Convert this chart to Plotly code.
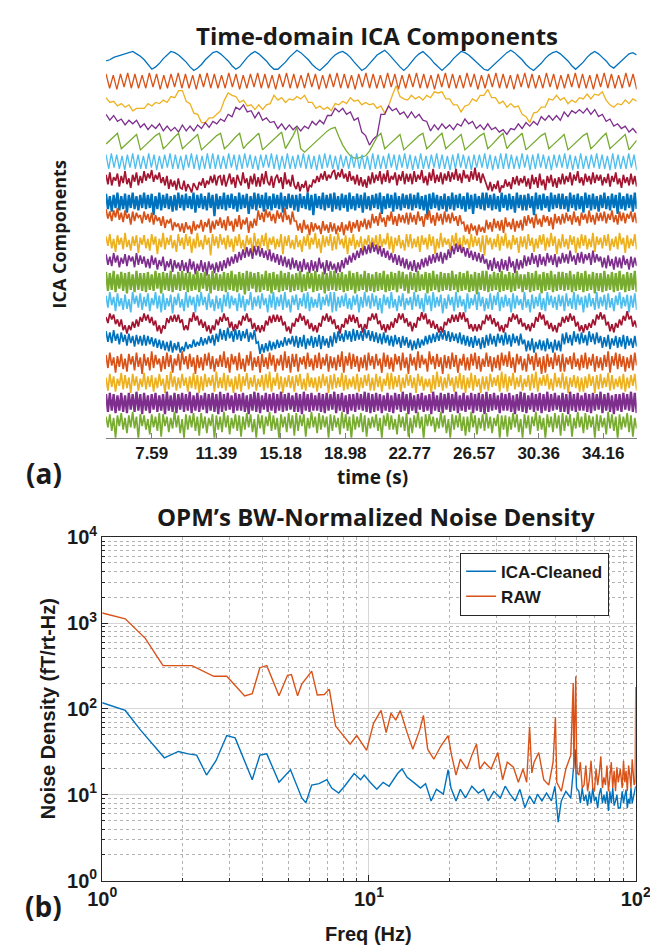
import numpy as np
import plotly.graph_objects as go

# ---------------- Panel (a): time-domain ICA components ----------------
T_START = 4.90
T_END = 36.13
time_ticks = [7.59, 11.39, 15.18, 18.98, 22.77, 26.57, 30.36, 34.16]
trace_spacing = 17.0
component_colors = ["#0072BD", "#D95319", "#EDB120", "#7E2F8E", "#77AC30", "#4DBEEE", "#A2142F"]

comp01 = [0,1,3,4,5,6,7,8,6,4, 1,-3,-7,-5,-2,2,5,8,7,5, 2,-1,-5,-8,-6,-3,1,4,7,8,
          6,3,0,-4,-7,-5,-1,3,6,8, 6,3,0,-4,-7,-7,-4,-1,3,6, 9,7,4,1,-3,-6,-8,-5,-2,2,
          5,7,8,6,3,-1,-5,-8,-6,-2, 2,5,7,9,6,2,-2,-5,-8,-5, -1,3,6,8,5,2,-2,-5,-8,-5,
          -2,2,5,8,7,5,2,-1,-4,-7, -8,-5,-2,1,4,7,9,7,4,1, -3,-6,-8,-5,-2,2,5,7,8,6,
          3,0,-4,-7,-4,-1,3,6,8,6, 3,0,-4,-6,-3,0,3,6,7,5]
comp02 = [6,-6,5,-7,6,-5,7,-6,6,-6, 5,-6,7,-5,6,-7,5,-6,6,-5, 7,-6,6,-6,5,-7,6,-5,7,-6,
          6,-6,5,-6,7,-5,6,-7,5,-6, 6,-5,7,-6,6,-6,5,-7,6,-5, 7,-6,6,-6,5,-6,7,-5,6,-7,
          5,-6,6,-5,7,-6,6,-6,5,-7, 6,-5,7,-6,6,-6,5,-6,7,-5, 6,-7,5,-6,6,-5,7,-6,6,-6,
          5,-7,6,-5,7,-6,6,-6,5,-6, 7,-5,6,-7,5,-6,6,-5,7,-6, 6,-6,5,-7,6,-5,7,-6,6,-6,
          5,-6,7,-5,6,-7,5,-6,6,-5, 7,-6,6,-6,5,-7,6,-5,7,-6, 6,-6,5,-6,7,-5,6,-7]
comp03 = [3,-1,0,-4,-2,-5,-3,-8,-6,-6, -6,-2,-4,-1,-2,1,-1,4,3,9, 9,0,-2,-10,-11,-18,-18,-14,-14,-11,
          -8,1,7,5,4,-1,1,-4,-3,-7, -3,-7,-3,-2,5,1,3,-1,2,1, 4,2,5,-1,-1,-6,-4,-7,-5,-8,
          -2,-3,0,-2,3,0,1,-3,-1,-3, -2,-6,-4,-10,-4,5,13,4,2,1, 5,2,4,1,5,3,8,7,8,2,
          2,-3,-3,-9,-4,-3,2,0,5,5, 10,3,3,-2,0,-5,-2,-5,-4,-11, -13,-18,-10,-9,-5,-5,2,1,5,1,
          3,-2,1,-1,3,2,6,2,6,5, 8,1,-3,-5,-2,-3,1,-2,2,0]
comp04 = [6,1,5,0,2,-3,1,-2,1,-5, -2,-7,-3,-6,-2,-8,-4,-8,-5,-9, -3,-8,-4,-8,-3,-6,-1,-5,0,-2,
          2,0,6,4,12,10,14,8,9,3, 8,1,3,-1,0,-6,-2,-7,-3,-7, -4,-8,-4,-6,0,-3,1,-2,5,5,
          11,8,11,6,8,1,3,-9,-12,-20, -15,-12,6,6,13,9,11,6,8,3, 8,3,6,1,0,-8,-3,-7,-2,-6,
          -3,-7,-2,-4,2,-2,0,-6,-3,-7, -2,-7,-5,-9,-7,-11,-6,-7,-2,-6, -1,-4,0,-3,4,1,5,1,5,1,
          8,4,9,7,10,7,11,6,10,4, 6,0,2,-4,-2,-6,-4,-9,-6,-10]
comp05 = [-2,1,4,7,-6,-3,0,3,6,-7, -4,-1,2,5,7,-6,-3,1,4,7, -6,-3,0,3,6,-7,-4,-1,2,5,
          7,-6,-3,1,4,7,-6,-2,1,4, 7,-7,-4,-1,2,5,8,-6,-1,5, 12,-6,-9,-6,-3,0,3,6,9,11,
          12,4,-3,-8,-12,-14,-14,-13,-12,-8, -2,4,7,-6,-3,0,3,6,-7,-4, -1,2,5,7,-6,-3,1,4,7,-6,
          -3,0,3,6,-7,-4,-1,2,5,7, -6,-3,1,4,7,-6,-2,1,4,7, -7,-4,-1,2,5,7,-6,-3,0,3,
          6,-7,-4,-1,2,5,7,-6,-3,1, 4,7,-6,-3,0,3,6,-7,-3,1]
comp06 = [6,-6,7,-5,6,-6,5,-7,6,-5, 7,-6,6,-6,5,-6,7,-5,6,-7, 5,-6,6,-5,7,-6,6,-6,5,-7,
          6,-5,7,-6,6,-7,5,-6,7,-6, 7,-6,6,-6,5,-6,7,-5,6,-7, 6,-6,7,-5,6,-6,5,-7,6,-5,
          6,-5,7,-6,6,-7,5,-6,7,-6, 5,-6,6,-5,7,-6,6,-6,5,-7, 6,-6,7,-5,6,-6,5,-7,6,-5,
          5,-6,6,-5,7,-6,6,-6,5,-7, 7,-6,6,-6,5,-6,7,-5,6,-7, 6,-5,7,-6,6,-7,5,-6,7,-6,
          5,-6,6,-5,7,-6,6,-6,5,-7, 6,-6,7,-5,6,-6,5,-7,6,-5, 6,-5,7,-6,6,-7,5,-6,7,-6,
          7,-6,6,-6,5,-6,7,-5,6,-7, 6,-6,7,-5,6,-6,5,-7,6,-5, 6,-5,7,-6,6,-7,5,-6,7,-6,
          5,-6,6,-5,7,-6,6,-6,5,-7, 7,-6,6,-6,5,-6,7,-5,6,-7]
comp07 = [6,-2,8,-3,4,1,7,-4,5,-1,9,-2,3,-5,6,0,8,-3,5,-1,
          9,1,7,3,10,0,6,2,8,-1,4,-3,5,-6,2,-4,1,-7,3,-5,
          -6,1,-8,-2,-5,-9,-1,-4,-7,0,-3,3,-5,1,-2,5,-1,6,-3,4,
          5,-3,6,-4,2,7,-2,4,-5,6,1,-3,8,-1,3,-6,5,-2,7,-4,
          4,-4,7,-2,9,0,-3,5,-5,3,6,-1,4,-6,8,-2,2,-4,6,-3,
          -6,0,-8,-2,-5,1,-9,-3,-4,2,-1,5,0,7,2,9,1,6,3,8,
          10,2,8,4,11,3,7,0,9,1,5,-2,6,-3,4,-4,2,-5,5,-2,
          8,-1,6,1,9,-2,7,0,10,-1,5,2,8,-3,6,1,9,-2,7,0,
          7,-2,9,0,6,2,10,-1,5,-3,8,1,11,-1,6,0,8,-2,7,1,
          9,0,8,2,11,1,7,-1,10,3,6,0,9,2,12,1,8,-1,7,2,
          -1,-7,0,-8,-2,-6,1,-9,-3,-5,2,-4,0,-6,4,-2,5,-3,3,-1,
          5,-4,3,-6,6,-2,4,-5,7,-3,2,-7,5,-1,6,-4,3,-5,4,-2,
          7,-2,5,0,8,-3,6,1,9,-1,4,-3,7,0,5,-2,8,-1,6,1,
          6,-3,4,-1,7,-4,5,0,8,-2,3,-5,6,-1,4,-3,7,-2,5,-4]
comp08 = [7,-6,5,-8,6,-5,8,-7,5,-6,7,-9,6,-5,8,-6,5,-7,6,-5,
          8,-6,6,-5,7,-11,5,-6,8,-7,6,-5,7,-6,5,-8,6,-7,8,-5,
          6,-7,7,-5,5,-6,8,-9,6,-5,7,-6,5,-7,8,-5,6,-12,7,-6,
          5,-6,8,-7,6,-5,7,-6,5,-8,8,-6,6,-5,7,-10,5,-6,8,-7,
          7,-5,6,-8,8,-6,5,-7,7,-5,6,-6,8,-9,5,-6,7,-5,6,-7,
          6,-8,7,-5,5,-6,8,-7,6,-11,7,-5,5,-6,8,-7,6,-5,7,-8,
          8,-6,5,-7,7,-5,6,-8,8,-6,5,-7,7,-5,6,-9,8,-6,5,-7,
          6,-5,7,-6,8,-10,5,-6,7,-5,6,-8,8,-6,5,-7,7,-5,6,-6,
          7,-7,6,-5,8,-6,5,-7,6,-12,7,-6,8,-5,6,-7,5,-6,7,-8,
          5,-6,8,-7,6,-5,7,-6,5,-8,8,-6,6,-10,7,-5,5,-6,8,-7,
          8,-5,6,-7,7,-6,5,-8,8,-5,6,-7,7,-6,5,-9,8,-5,6,-7,
          6,-7,7,-5,5,-11,8,-6,6,-7,7,-5,5,-8,8,-6,6,-5,7,-6,
          7,-6,5,-8,8,-5,6,-7,7,-6,5,-9,8,-5,6,-7,7,-6,5,-8,
          6,-5,8,-6,5,-7,7,-5,6,-10,8,-6,5,-7,7,-5,6,-8,8,-6]
comp09 = [11,3,9,1,10,4,12,2,8,0,10,3,7,-2,9,1,8,4,6,-1,
          9,2,7,0,8,-2,6,1,4,-3,5,-5,2,-1,3,-7,0,-4,-1,-8,
          -1,-9,0,-6,-3,-10,1,-7,-2,-5,2,-8,0,-4,3,-9,1,-6,2,-3,
          4,-5,2,-7,5,-3,1,-8,3,-4,6,-6,2,-2,4,-9,1,-5,3,-3,
          10,2,8,0,11,4,9,1,7,-1,10,3,8,0,12,2,6,-2,9,1,
          1,-7,-1,-9,2,-6,-2,-11,0,-8,-1,-6,-3,-10,1,-7,-2,-9,0,-8,
          -1,-10,-3,-8,0,-11,-2,-7,1,-9,0,-5,2,-8,1,-4,3,-6,2,-5,
          7,-1,5,-3,8,0,4,-4,6,1,9,-2,5,-3,7,0,6,-1,8,-2,
          8,0,6,-2,9,1,5,-4,7,2,10,-1,6,-3,8,1,7,-2,9,0,
          7,-1,8,1,5,-3,6,-1,0,-8,-2,-10,-1,-7,-3,-11,-2,-8,-4,-9,
          2,-6,0,-8,3,-5,1,-7,2,-9,4,-4,0,-6,3,-8,1,-5,2,-7,
          5,-3,6,-1,4,-5,7,-2,3,-4,6,0,5,-3,4,-6,7,-1,5,-2,
          7,-1,8,1,6,-2,9,0,5,-3,8,2,7,-1,10,0,6,-2,8,1,
          8,1,9,-1,7,2,10,0,6,-2,9,1,8,-1,7,3,9,0,8,-1]
comp10 = [5,-3,7,-5,3,-8,6,-2,4,-6,8,-4,2,-7,5,-3,6,-9,4,-2,
          6,-5,3,-7,7,-2,5,-10,3,-4,8,-6,4,-2,6,-5,2,-8,7,-3,
          4,-6,7,-3,5,-9,3,-5,8,-4,2,-6,6,-2,4,-11,7,-3,5,-5,
          7,-2,4,-6,6,-4,3,-8,5,-3,7,-5,2,-7,6,-2,4,-9,8,-4,
          3,-5,6,-3,8,-7,4,-2,5,-6,3,-4,7,-10,5,-3,6,-5,2,-6,
          6,-4,2,-8,5,-3,7,-6,4,-2,8,-5,3,-9,6,-4,5,-3,7,-7,
          5,-6,8,-2,3,-5,6,-10,4,-3,7,-6,2,-4,5,-8,3,-2,6,-5,
          4,-3,6,-7,7,-4,3,-2,8,-6,5,-9,4,-3,6,-5,2,-7,7,-4,
          7,-5,3,-4,5,-8,6,-2,4,-6,7,-3,5,-10,3,-5,8,-4,4,-2,
          3,-7,6,-3,8,-5,4,-9,6,-2,3,-6,7,-4,5,-3,4,-8,6,-11,
          6,-2,4,-6,3,-4,7,-7,5,-3,8,-5,2,-6,6,-2,4,-9,5,-4,
          5,-6,7,-3,4,-8,3,-5,6,-2,7,-7,4,-4,8,-3,5,-10,3,-5,
          7,-4,3,-6,6,-2,5,-9,4,-5,7,-3,6,-6,3,-4,8,-8,5,-2,
          4,-5,6,-3,7,-7,3,-4,5,-6,8,-2,4,-9,6,-5,3,-3,7,-6]
comp11 = [7,-2,5,-3,8,0,6,-4,4,-1,7,-3,6,1,5,-4,8,-2,6,-1,
          5,-4,3,-5,6,-2,4,-6,2,-3,5,-7,1,-4,3,-8,2,-5,0,-7,
          2,-7,0,-9,3,-6,1,-10,-1,-7,2,-8,0,-11,1,-6,-1,-9,0,-8,
          1,-7,2,-5,4,-3,5,-1,7,0,9,2,11,4,13,5,12,3,14,6,
          14,5,12,4,10,2,11,1,8,0,7,-2,6,-3,5,-4,3,-6,4,-5,
          2,-7,1,-8,3,-6,0,-9,2,-7,1,-8,4,-5,0,-10,2,-7,1,-6,
          -1,-9,0,-8,2,-5,4,-2,6,0,8,2,10,4,12,6,14,7,15,8,
          17,9,15,7,14,5,12,4,10,2,8,0,7,-2,6,-3,4,-5,3,-6,
          1,-7,2,-8,0,-6,3,-4,4,-3,6,-1,7,0,8,1,9,-1,8,2,
          11,4,14,7,16,9,15,8,13,5,12,4,10,2,9,1,8,0,7,-1,
          3,-6,2,-7,4,-5,1,-8,3,-6,2,-7,5,-4,1,-9,3,-6,2,-5,
          6,-3,5,-2,8,-1,6,-4,7,-2,5,-3,8,0,6,-2,7,-4,5,-1,
          8,0,7,-1,10,1,6,-2,8,0,9,-1,7,2,8,-2,10,0,7,1,
          5,-4,4,-5,6,-3,3,-6,5,-4,4,-5,6,-2,3,-6,5,-4,4,-3]
comp12 = [9,-7,8,-6,10,-8,7,-5,9,-7,8,-9,9,-6,7,-8,10,-6,8,-7,
          8,-8,9,-6,7,-7,10,-5,8,-9,9,-6,8,-7,10,-8,7,-6,9,-7,
          10,-6,8,-8,9,-7,7,-6,10,-8,8,-5,9,-7,7,-9,10,-6,8,-7,
          7,-7,9,-8,8,-6,10,-7,7,-8,9,-6,8,-10,10,-7,9,-5,8,-8,
          9,-8,7,-6,10,-7,8,-9,9,-6,7,-8,10,-7,8,-6,9,-8,7,-7,
          8,-6,10,-8,7,-7,9,-5,8,-8,10,-7,7,-6,9,-9,8,-7,10,-6,
          10,-7,8,-6,9,-8,7,-7,10,-6,8,-9,9,-7,7,-6,10,-8,8,-7,
          7,-8,9,-7,8,-6,10,-8,7,-7,9,-6,8,-8,10,-5,9,-7,7,-9,
          9,-6,8,-8,10,-7,7,-6,9,-9,8,-7,10,-6,7,-8,9,-7,8,-6,
          8,-7,10,-6,7,-8,9,-7,8,-6,10,-8,7,-7,9,-10,8,-6,10,-7,
          10,-8,7,-7,9,-6,8,-8,10,-7,7,-6,9,-8,8,-7,10,-5,7,-8,
          7,-6,9,-8,8,-7,10,-6,7,-9,9,-7,8,-6,10,-8,7,-7,9,-6,
          9,-7,8,-6,10,-8,7,-7,9,-6,8,-8,10,-7,7,-6,9,-9,8,-7,
          8,-8,10,-7,7,-6,9,-8,8,-7,10,-6,7,-8,9,-7,8,-6,10,-8]
comp13 = [6,-4,9,-2,5,-7,8,-3,4,-6,7,-5,3,-8,9,-1,6,-4,8,-6,
          5,-3,8,-7,4,-2,9,-5,6,-8,8,-6,4,-3,7,-9,5,-2,8,-4,
          3,-7,9,-4,6,-2,5,-8,7,-3,9,-2,5,-6,8,-4,3,-7,6,-5,
          4,-8,7,-3,9,-5,6,-2,4,-7,8,-4,6,-7,3,-2,9,-6,5,-3,
          6,-5,8,-2,4,-8,7,-4,9,-6,5,-3,7,-6,9,-4,3,-8,6,-2,
          7,-6,4,-3,8,-5,9,-7,5,-4,3,-4,8,-6,5,-2,7,-3,9,-8,
          9,-7,5,-4,6,-3,8,-5,4,-6,6,-2,7,-8,5,-4,9,-3,6,-5,
          8,-3,6,-6,4,-9,7,-2,5,-5,9,-4,3,-7,6,-3,8,-6,4,-2,
          5,-6,9,-3,7,-5,4,-8,8,-2,6,-7,9,-4,5,-3,7,-9,4,-5,
          7,-2,5,-7,9,-4,6,-3,3,-8,8,-5,4,-2,7,-6,9,-3,5,-7,
          4,-5,8,-6,6,-2,9,-7,5,-4,7,-3,4,-8,8,-5,6,-2,3,-6,
          9,-4,3,-8,7,-5,5,-3,8,-6,4,-7,9,-2,6,-4,5,-6,7,-3,
          6,-7,8,-3,4,-5,9,-6,7,-2,5,-8,6,-4,8,-3,4,-6,9,-5,
          5,-3,7,-6,8,-4,4,-7,6,-2,9,-5,5,-3,7,-8,6,-4,8,-6]
comp14 = [5,0,8,3,7,-1,3,-3,3,-6,-2,-9,-2,-6,1,-4,3,-3,5,1,
          8,2,7,0,5,-2,2,-7,-2,-9,-2,-5,4,0,6,1,7,1,7,0,
          3,-6,-2,-6,4,1,9,2,6,-2,3,-4,1,-7,-2,-9,-2,-6,3,-2,
          5,1,8,2,5,-4,1,-7,-1,-5,2,-2,6,2,8,1,4,-5,0,-7,
          -2,-8,-2,-7,2,-2,6,0,7,1,7,1,6,-2,1,-7,-3,-9,0,-3,
          4,1,8,2,6,-2,3,-5,0,-7,-2,-8,0,-3,6,2,8,1,6,-1,
          3,-5,-2,-9,-1,-4,4,-1,7,1,7,0,5,-4,-1,-8,-1,-5,5,2,
          8,3,8,-1,2,-6,-1,-8,-1,-6,1,-4,4,0,8,3,8,0,4,-3,
          1,-7,0,-4,5,2,9,3,8,-1,3,-4,2,-5,-1,-8,-3,-8,1,-2,
          4,0,7,1,7,1,9,3,9,1,4,-5,-1,-7,-1,-7,-1,-6,2,-1,
          7,2,7,-1,4,-3,1,-7,-2,-8,-1,-4,5,1,8,3,7,-1,4,-3,
          0,-6,-1,-7,0,-4,5,1,9,3,7,-2,2,-5,0,-7,-2,-8,0,-3,
          5,0,6,1,8,2,6,-3,1,-7,-2,-8,-1,-6,0,-4,3,-2,7,3,
          9,3,7,-2,1,-7,-1,-8,0,-4,3,-2,6,2,10,3,6,-3,2,-4]
comp15 = [10,1,9,0,11,2,8,-1,9,1,7,-2,8,0,6,-3,7,-1,6,-2,
          7,-2,6,-1,5,-3,4,-4,3,-5,2,-6,1,-7,2,-8,0,-6,1,-8,
          -3,-7,1,-5,-1,-4,3,-3,1,-2,5,-2,4,-1,6,0,7,-2,8,1,
          12,3,11,2,13,4,10,1,12,3,11,2,10,4,12,1,9,3,11,0,
          1,-9,-1,-8,0,-7,2,-6,1,-5,3,-4,2,-3,5,-2,4,-1,6,-3,
          6,-4,5,-3,7,-5,4,-2,6,-4,5,-3,7,-5,6,-2,4,-4,6,-3,
          9,0,10,2,8,1,11,3,10,1,12,2,11,3,10,2,12,4,11,2,
          10,1,9,0,8,-1,9,0,7,-2,6,-3,7,-1,5,-4,6,-2,5,-4,
          3,-6,2,-5,4,-4,3,-2,6,-1,7,0,8,1,9,2,10,3,11,2,
          10,1,9,2,8,0,9,-1,7,-2,6,-3,5,-4,6,-2,4,-5,5,-4,
          7,-2,8,-1,6,-3,8,0,7,-2,9,-1,7,-3,8,0,6,-2,8,-1,
          3,-7,2,-6,4,-8,1,-5,3,-6,2,-7,4,-5,1,-8,3,-6,2,-7,
          8,-1,9,0,7,-2,10,1,8,-1,9,0,7,-2,10,1,8,-1,9,0,
          6,-4,5,-3,7,-5,4,-2,6,-4,5,-3,7,-5,6,-2,4,-4,6,-3]
comp16 = [7,-4,9,-2,5,-8,6,-3,8,-5,4,-7,8,-1,6,-6,9,-3,5,-9,
          8,-2,5,-6,10,-4,7,-1,4,-7,6,-5,9,-3,7,-8,4,-2,8,-6,
          10,-1,6,-5,8,-3,5,-9,7,-4,5,-6,8,-2,9,-5,6,-7,4,-3,
          7,-3,10,-4,5,-8,8,-1,6,-6,9,-5,4,-7,7,-2,10,-6,5,-3,
          6,-8,8,-3,5,-5,9,-2,7,-7,4,-2,7,-6,10,-4,6,-8,8,-3,
          8,-7,5,-1,6,-5,9,-3,4,-6,7,-4,9,-5,5,-2,8,-7,6,-4,
          5,-6,7,-3,10,-8,6,-2,9,-5,8,-3,6,-7,5,-4,7,-6,9,-2,
          6,-5,8,-2,4,-8,9,-3,7,-5,5,-7,8,-1,6,-6,9,-4,5,-9,
          8,-2,5,-6,10,-4,7,-1,4,-7,10,-1,6,-5,8,-3,5,-9,7,-4,
          6,-5,9,-3,7,-8,4,-2,8,-6,5,-6,8,-2,9,-5,6,-7,4,-3,
          9,-3,6,-7,5,-4,7,-6,9,-2,7,-3,10,-4,5,-8,8,-1,6,-6,
          4,-7,8,-1,6,-6,9,-3,5,-9,6,-8,8,-3,5,-5,9,-2,7,-7,
          8,-7,5,-1,6,-5,9,-3,4,-6,7,-4,9,-5,5,-2,8,-7,6,-4,
          5,-6,7,-3,10,-8,6,-2,9,-5,8,-3,6,-7,5,-4,7,-6,9,-2]
comp17 = [5,-6,8,-3,6,-7,4,-2,9,-5,7,-4,5,-8,8,-2,6,-6,4,-3,
          9,-5,6,-3,7,-7,5,-4,8,-2,4,-8,7,-5,10,-3,6,-6,5,-4,
          8,-2,5,-7,6,-4,9,-5,7,-8,6,-6,8,-3,5,-2,7,-7,10,-4,
          5,-4,9,-6,7,-3,4,-8,6,-5,8,-7,6,-2,9,-5,5,-3,7,-6,
          4,-3,7,-6,8,-4,10,-7,5,-2,9,-5,6,-8,5,-3,7,-4,6,-7,
          7,-2,8,-5,4,-6,9,-3,5,-4,5,-7,6,-4,8,-2,6,-8,7,-5,
          8,-4,5,-3,9,-6,7,-5,4,-3,6,-5,8,-7,5,-4,7,-2,8,-6,
          5,-6,8,-3,6,-7,4,-2,9,-5,9,-5,6,-3,7,-7,5,-4,8,-2,
          7,-4,5,-8,8,-2,6,-6,4,-3,4,-8,7,-5,10,-3,6,-6,5,-4,
          8,-2,5,-7,6,-4,9,-5,7,-8,5,-4,9,-6,7,-3,4,-8,6,-5,
          6,-6,8,-3,5,-2,7,-7,10,-4,8,-7,6,-2,9,-5,5,-3,7,-6,
          4,-3,7,-6,8,-4,10,-7,5,-2,7,-2,8,-5,4,-6,9,-3,5,-4,
          9,-5,6,-8,5,-3,7,-4,6,-7,5,-7,6,-4,8,-2,6,-8,7,-5,
          8,-4,5,-3,9,-6,7,-5,4,-3,6,-5,8,-7,5,-4,7,-2,8,-6]
comp18 = [8,-7,9,-6,8,-8,7,-6,9,-7,7,-8,9,-5,8,-7,10,-6,8,-9,
          9,-6,7,-8,8,-5,9,-7,7,-6,8,-9,10,-6,7,-7,9,-8,8,-5,
          9,-7,8,-6,10,-8,7,-6,9,-7,7,-5,9,-8,8,-6,9,-7,8,-9,
          10,-7,8,-6,9,-5,7,-8,9,-6,8,-6,9,-7,7,-9,8,-6,10,-7,
          9,-8,7,-5,9,-7,8,-6,9,-8,8,-6,10,-7,8,-6,9,-5,7,-7,
          9,-7,8,-9,10,-6,8,-7,9,-6,7,-6,9,-7,8,-8,9,-6,8,-5,
          10,-8,8,-6,9,-7,7,-9,8,-6,8,-7,9,-5,8,-6,10,-7,9,-8,
          8,-7,9,-6,8,-8,7,-6,9,-7,7,-8,9,-5,8,-7,10,-6,8,-9,
          9,-6,7,-8,8,-5,9,-7,7,-6,8,-9,10,-6,7,-7,9,-8,8,-5,
          9,-7,8,-6,10,-8,7,-6,9,-7,7,-5,9,-8,8,-6,9,-7,8,-9,
          10,-7,8,-6,9,-5,7,-8,9,-6,8,-6,9,-7,7,-9,8,-6,10,-7,
          9,-8,7,-5,9,-7,8,-6,9,-8,8,-6,10,-7,8,-6,9,-5,7,-7,
          9,-7,8,-9,10,-6,8,-7,9,-6,7,-6,9,-7,8,-8,9,-6,8,-5,
          10,-8,8,-6,9,-7,7,-9,8,-6,8,-7,9,-5,8,-6,10,-7,9,-8]
comp19 = [6,-3,8,-6,5,-12,7,-2,9,-5,5,-8,7,-3,10,-4,6,-13,8,-2,
          7,-5,4,-9,8,-3,6,-6,9,-11,8,-2,6,-7,5,-4,10,-3,7,-8,
          4,-12,8,-5,7,-3,9,-6,6,-10,9,-4,6,-8,5,-2,8,-13,7,-5,
          6,-7,10,-3,7,-9,5,-4,8,-6,7,-11,6,-5,9,-3,8,-7,4,-12,
          8,-4,7,-9,6,-2,10,-6,7,-5,5,-13,8,-3,6,-7,9,-4,7,-10,
          9,-6,7,-2,8,-11,5,-4,10,-3,6,-8,9,-5,7,-3,6,-12,8,-6,
          7,-3,5,-9,10,-4,8,-6,6,-13,8,-5,6,-3,9,-7,7,-11,5,-4,
          6,-3,8,-6,5,-12,7,-2,9,-5,7,-5,4,-9,8,-3,6,-6,9,-11,
          5,-8,7,-3,10,-4,6,-13,8,-2,8,-2,6,-7,5,-4,10,-3,7,-8,
          4,-12,8,-5,7,-3,9,-6,6,-10,6,-7,10,-3,7,-9,5,-4,8,-6,
          9,-4,6,-8,5,-2,8,-13,7,-5,7,-11,6,-5,9,-3,8,-7,4,-12,
          8,-4,7,-9,6,-2,10,-6,7,-5,5,-13,8,-3,6,-7,9,-4,7,-10,
          9,-6,7,-2,8,-11,5,-4,10,-3,6,-8,9,-5,7,-3,6,-12,8,-6,
          7,-3,5,-9,10,-4,8,-6,6,-13,8,-5,6,-3,9,-7,7,-11,5,-4]

components = [comp01, comp02, comp03, comp04, comp05, comp06, comp07, comp08, comp09, comp10,
              comp11, comp12, comp13, comp14, comp15, comp16, comp17, comp18, comp19]

# ---------------- Panel (b): noise density spectra ----------------
freq_ica = [1.0, 1.22, 1.39, 1.56, 1.71, 1.93, 2.1, 2.26, 2.46, 2.67, 2.93, 3.15, 3.42, 3.65, 3.9,
            4.14, 4.6, 5.08, 5.6, 5.8, 6.1, 6.5, 6.95, 7.25, 7.7, 8.1, 8.8, 9.3, 9.6, 10.1, 10.7,
            11.3, 11.9, 12.8, 13.3, 13.9, 14.9, 15.6, 16.3, 17.1, 17.9, 19.0, 19.8, 20.3, 21.2,
            22.0, 23.0, 24.3, 25.7, 26.9, 28.0, 29.4, 31.1, 32.4, 33.8, 35.3, 36.8, 38.4, 40.0,
            41.6, 42.8, 44.5, 46.3, 48.3, 49.8, 51.2, 52.6, 54.7, 57.1, 59.3, 60.0,
            61.2, 62, 63, 64, 65, 66, 67, 68, 69, 70, 71, 72, 73, 74, 75, 76, 77, 78, 79, 80,
            81, 82, 83, 84, 85, 86, 87.5, 89, 90, 91, 92, 93, 94, 95, 96, 97, 98.6, 100]
ica_density = [118, 96, 57, 37, 27, 32, 30, 29, 17, 25, 49, 46, 25, 15, 29,
               30, 14, 19.6, 9.2, 8.1, 13, 13.5, 15, 12, 10.5, 12.6, 17.7, 15, 17, 14, 11.6,
               14, 12.6, 17.7, 20, 16, 13.5, 12, 13.5, 8.5, 11.6, 10.2, 19.6, 12, 8.5,
               11.6, 9.2, 12.6, 10.5, 11.6, 8.5, 11, 9.2, 12.6, 10.2, 8.5, 11.6, 7.1, 9.7,
               7.9, 10.2, 8.5, 10.5, 8.5, 12.6, 4.8, 8.5, 11, 9.2, 34, 12,
               11, 8, 12, 8.5, 10, 7.5, 11, 8, 12, 8.5, 9.5, 7, 10.2, 12, 8, 10, 7.9, 11, 6.5, 11,
               8, 12, 7.5, 8.5, 10, 7, 7.1, 11, 8, 9.7, 11.5, 7, 9, 7.9, 12, 8, 10.2, 12.6]
freq_raw = [1.0, 1.22, 1.45, 1.69, 2.17, 2.62, 2.93, 3.42, 3.65, 3.9, 4.14, 4.6, 4.95, 5.12, 5.4,
            5.6, 6.1, 6.4, 6.8, 7.1, 7.25, 7.5, 7.7, 8.5, 9.0, 9.8, 10.4, 11.1, 11.6, 12.1, 12.6,
            13.1, 13.9, 14.6, 15.5, 16.0, 16.6, 17.5, 18.6, 19.8, 20.4, 21.2, 22.0, 23.3, 24.3,
            25.3, 26.0, 27.1, 28.7, 30.4, 31.7, 33.0, 34.8, 36.3, 37.8, 39.0, 40.0, 40.8, 41.6,
            43.3, 45.2, 47.2, 49.0, 50.0, 50.6, 52.6, 54.7, 57.1, 58.3, 58.6, 59.0, 59.6, 60.0,
            60.4, 61.2, 62, 63, 64, 65, 66, 67, 68, 69, 70, 71, 72, 73, 74, 75, 76, 77, 78, 79, 80,
            81, 82, 83, 84, 85, 86, 87.5, 89, 90, 91, 92, 93, 94, 95, 96, 97, 98.6, 99.5, 100]
raw_density = [1306, 1120, 663, 319, 319, 240, 240, 142, 150, 302, 319, 142, 246, 251, 142,
               195, 275, 145, 147, 170, 115, 63, 57, 39, 49, 33, 68, 96, 53, 89, 74,
               96, 53, 34, 57, 84, 34, 26, 37, 49, 29, 17, 26, 20, 29,
               39, 20, 24, 20, 31, 15, 24, 21, 14, 20, 14, 62, 18, 24,
               31, 15, 13, 24, 80, 14, 11, 20, 29, 200, 20, 60, 240, 30,
               18, 17, 24, 12, 13, 22, 11, 15, 25, 12, 11, 20, 13, 18, 28, 12, 16, 13, 22, 11, 17,
               24, 12, 19, 11, 21, 14, 20, 12, 25, 14, 19, 11, 22, 17, 12, 26, 13, 14, 180]

W, H = 658, 950
BLUE, ORANGE = "#0072BD", "#D95319"
INK = "#1a1a1a"
PX_PER_UNIT = 20.7 / trace_spacing


def px_x(p):
    return p / W


def px_y(p):
    return 1 - p / H


fig = go.Figure()
for k, vals in enumerate(components):
    t = np.linspace(T_START, T_END, len(vals))
    y = np.asarray(vals, dtype=float) - k * trace_spacing
    if k < 6:
        lw = 1.3
    elif k in (7, 11, 17):
        lw = 2.3
    else:
        lw = 1.7
    fig.add_trace(go.Scatter(x=t, y=y, mode="lines",
                             line=dict(color=component_colors[k % len(component_colors)], width=lw),
                             xaxis="x", yaxis="y", showlegend=False, hoverinfo="skip"))

fig.add_trace(go.Scatter(x=freq_ica, y=ica_density, mode="lines", name="ICA-Cleaned",
                         line=dict(color=BLUE, width=1.4), xaxis="x2", yaxis="y2"))
fig.add_trace(go.Scatter(x=freq_raw, y=raw_density, mode="lines", name="RAW",
                         line=dict(color=ORANGE, width=1.4), xaxis="x2", yaxis="y2"))

arial_b = dict(family="Liberation Sans, Arial", weight="bold", color=INK)
sans_b = dict(family="Open Sans, Noto Sans", weight="bold", color=INK)

minor_x = [m * 10 ** d for d in range(2) for m in range(2, 10)]
minor_y = [m * 10 ** d for d in range(4) for m in range(2, 10)]
log_common = dict(type="log", showline=True, mirror=True, linecolor="#262626", linewidth=1.2,
                  ticks="inside", ticklen=6, tickcolor="#262626", showgrid=True,
                  gridcolor="#d6d6d6", gridwidth=1, zeroline=False,
                  tickfont=dict(size=20, **arial_b))

# top panel: first trace baseline 40 px from top, axis line at 427 px
y_top = (40 - 26) / PX_PER_UNIT
y_bot = -(427 - 40) / PX_PER_UNIT

fig.update_layout(
    width=W, height=H, margin=dict(l=0, r=0, t=0, b=0),
    paper_bgcolor="white", plot_bgcolor="white",
    xaxis=dict(domain=[px_x(87), px_x(643)], range=[T_START, T_END], anchor="y",
               showline=True, linecolor="#808080", linewidth=1, ticks="inside", ticklen=5,
               tickcolor="#808080", tickvals=time_ticks,
               ticktext=[f"{v:.2f}" for v in time_ticks],
               tickfont=dict(size=17, **arial_b), showgrid=False, zeroline=False),
    yaxis=dict(domain=[px_y(427), px_y(26)], range=[y_bot, y_top], visible=False),
    xaxis2=dict(domain=[px_x(83), px_x(642)], range=[0, 2], anchor="y2",
                tickvals=[1, 10, 100],
                ticktext=["10<sup>0</sup>", "10<sup>1</sup>", "10<sup>2</sup>"],
                minor=dict(tickvals=minor_x, ticks="inside", ticklen=3, tickcolor="#262626",
                           showgrid=True, gridcolor="#b3b3b3", griddash="dot", gridwidth=1),
                **log_common),
    yaxis2=dict(domain=[px_y(882), px_y(529)], range=[0, 4], anchor="x2",
                tickvals=[1, 10, 100, 1000, 10000],
                ticktext=["10<sup>0</sup>", "10<sup>1</sup>", "10<sup>2</sup>",
                          "10<sup>3</sup>", "10<sup>4</sup>"],
                minor=dict(tickvals=minor_y, ticks="inside", ticklen=3, tickcolor="#262626",
                           showgrid=True, gridcolor="#b3b3b3", griddash="dot", gridwidth=1),
                **log_common),
    legend=dict(x=px_x(458), y=px_y(545), xanchor="left", yanchor="top", bgcolor="white",
                bordercolor="#262626", borderwidth=1, tracegroupgap=0,
                font=dict(size=17, **arial_b)),
    showlegend=True,
)

annotations = [
    dict(text="Time-domain ICA Components", x=px_x(371), y=px_y(14), font=dict(size=24, **sans_b)),
    dict(text="ICA Components", x=px_x(38), y=px_y(218), textangle=-90, font=dict(size=18, **sans_b)),
    dict(text="time (s)", x=px_x(366), y=px_y(467), font=dict(size=19, **sans_b)),
    dict(text="(a)", x=px_x(22), y=px_y(463), font=dict(size=28, **sans_b)),
    dict(text="OPM’s BW-Normalized Noise Density", x=px_x(370), y=px_y(508), font=dict(size=24, **sans_b)),
    dict(text="Noise Density (fT/rt-Hz)", x=px_x(27), y=px_y(705), textangle=-90, font=dict(size=20, **arial_b)),
    dict(text="Freq (Hz)", x=px_x(362), y=px_y(937), font=dict(size=20, **arial_b)),
    dict(text="(b)", x=px_x(22), y=px_y(908), font=dict(size=28, **sans_b)),
]
for a in annotations:
    fig.add_annotation(xref="paper", yref="paper", showarrow=False, xanchor="center", yanchor="middle", **a)

fig.write_html("out.html")
